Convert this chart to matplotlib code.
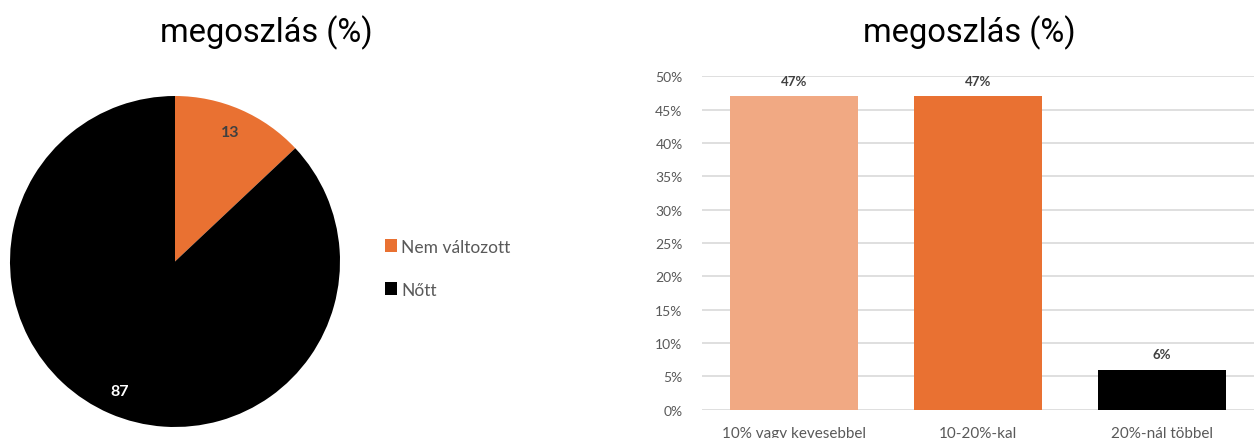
import matplotlib.pyplot as plt
import numpy as np

# Pie data
pie_labels = ["Nem változott", "Nőtt"]
pie_values = [13, 87]
pie_colors = ["#E97132", "#000000"]

# Bar data
bar_cats = ["10% vagy kevesebbel", "10-20%-kal", "20%-nál többel"]
bar_values = [47, 47, 6]
bar_colors = ["#F1A983", "#E97132", "#000000"]

W, H = 1255, 439
fig = plt.figure(figsize=(W / 100, H / 100), dpi=100)
plt.rcParams['font.family'] = ['Lato', 'DejaVu Sans']


def px_axes(x0, y0, x1, y1):
    # pixel box (top-left origin) -> figure axes
    return fig.add_axes([x0 / W, 1 - y1 / H, (x1 - x0) / W, (y1 - y0) / H])


# Pie chart
ax1 = px_axes(10, 97, 340, 428)
wedges, texts, autotexts = ax1.pie(
    pie_values, colors=pie_colors, startangle=90, counterclock=False,
    autopct=lambda p: f"{p:.0f}", pctdistance=0.85,
    wedgeprops=dict(linewidth=0))
ax1.set_xlim(-1, 1)
ax1.set_ylim(-1, 1)
ax1.set_aspect('auto')
autotexts[0].set_color("#404040")
autotexts[1].set_color("white")
for t in autotexts:
    t.set_fontsize(11.5)
    t.set_fontweight("bold")

fig.legend(wedges, pie_labels, loc="upper left", bbox_to_anchor=(369 / W, 1 - 224 / H),
           frameon=False, fontsize=12.5, labelcolor="#595959",
           handlelength=0.7, handleheight=0.7, handletextpad=0.25, labelspacing=1.55)

title_font = ['Roboto', 'DejaVu Sans']
fig.text(266 / W, 1 - 33 / H, "megoszlás (%)", ha="center", va="center",
         fontsize=23.5, family=title_font)

# Bar chart
ax2 = px_axes(702, 77.3, 1254, 410.7)
x = np.arange(len(bar_cats))
bars = ax2.bar(x, bar_values, width=0.7, color=bar_colors, zorder=3)
ax2.bar_label(bars, labels=[f"{v}%" for v in bar_values], padding=7,
              fontsize=9.5, fontweight="bold", color="#404040")
ax2.set_xlim(-0.5, 2.5)
ax2.set_ylim(0, 50)
ax2.set_yticks(np.arange(0, 51, 5))
ax2.set_yticklabels([f"{v}%" for v in range(0, 51, 5)])
ax2.set_xticks(x)
ax2.set_xticklabels(bar_cats)
ax2.tick_params(axis="y", length=0, pad=14, labelsize=10, labelcolor="#595959")
ax2.tick_params(axis="x", length=0, pad=12, labelsize=11, labelcolor="#595959")
ax2.grid(axis="y", color="#D9D9D9", linewidth=1.2, zorder=0)
for s in ax2.spines.values():
    s.set_visible(False)

fig.text(969 / W, 1 - 33 / H, "megoszlás (%)", ha="center", va="center",
         fontsize=23.5, family=title_font)

fig.savefig("out.png", dpi=100)
